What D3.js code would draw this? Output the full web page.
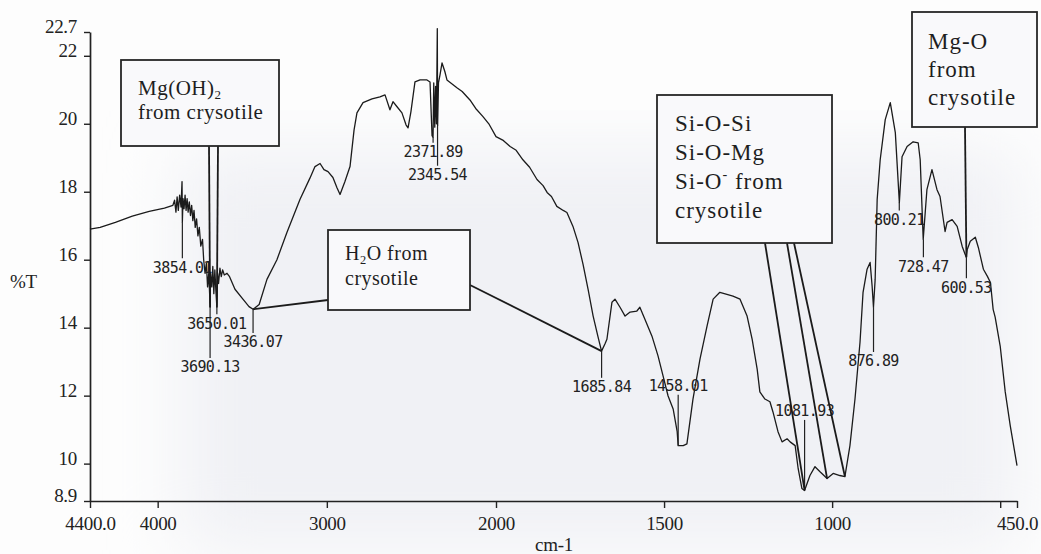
<!DOCTYPE html>
<html>
<head>
<meta charset="utf-8">
<script src="https://cdn.jsdelivr.net/npm/d3@7"></script>
<style>
body { margin: 0; background: #fff; }
svg { display: block; }
.tick-lbl text, .axis-title { font-family: "Liberation Serif", serif; font-size: 19px; fill: #222; letter-spacing: -0.3px; }
.peak { font-family: "DejaVu Sans Mono", monospace; font-size: 15px; fill: #222; letter-spacing: -0.6px; }
text.box-txt, text.box-txt tspan { font-family: "Liberation Serif", serif; fill: #1e1e1e; }
</style>
</head>
<body>
<svg id="chart" width="1041" height="554"></svg>
<script>
// spectrum (wavenumber in cm-1, %T)
const wavenumber = [
	4400, 4340, 4250, 4150, 4050, 3960, 3910, 3900, 3892, 3885, 3878, 3870, 3862, 3856, 3854, 3850,
	3844, 3838, 3832, 3826, 3820, 3813, 3806, 3799, 3792, 3785, 3778, 3770, 3762, 3754, 3745, 3735,
	3728, 3720, 3712, 3705, 3698, 3692, 3690, 3687, 3680, 3674, 3668, 3662, 3656, 3650, 3646, 3640,
	3632, 3624, 3616, 3606, 3590, 3575, 3543, 3496, 3460, 3436, 3400, 3354, 3295, 3236, 3159, 3100,
	3070, 3040, 3017, 2993, 2964, 2940, 2922, 2893, 2863, 2839, 2822, 2786, 2733, 2686, 2656, 2627,
	2609, 2585, 2556, 2532, 2520, 2503, 2479, 2449, 2408, 2390, 2378, 2372, 2368, 2362, 2357, 2352,
	2347, 2345, 2340, 2331, 2319, 2302, 2290, 2231, 2200, 2154, 2120, 2077, 2040, 2000, 1980, 1958,
	1940, 1920, 1900, 1878, 1860, 1848, 1835, 1819, 1800, 1789, 1771, 1756, 1741, 1726, 1711, 1697,
	1686, 1676, 1670, 1655, 1646, 1631, 1616, 1601, 1581, 1572, 1557, 1536, 1518, 1503, 1488, 1473,
	1461, 1458, 1443, 1432, 1414, 1393, 1372, 1354, 1334, 1313, 1295, 1274, 1253, 1238, 1223, 1215,
	1200, 1185, 1176, 1161, 1149, 1134, 1125, 1110, 1101, 1090, 1082, 1066, 1051, 1036, 1015, 997,
	977, 962, 947, 932, 917, 908, 896, 887, 881, 877, 872, 866, 857, 842, 827, 812,
	800, 792, 777, 759, 744, 738, 729, 718, 703, 688, 679, 664, 658, 643, 628, 613,
	601, 598, 589, 574, 565, 550, 538, 529, 521, 515, 500, 485, 470, 450
];
const transmittance = [
	16.9, 16.95, 17.1, 17.28, 17.42, 17.52, 17.6, 17.75, 17.4, 17.85, 17.45, 17.9, 17.55, 18.3, 17.1, 17.8,
	17.5, 17.9, 17.45, 17.8, 17.4, 17.7, 17.3, 17.6, 17.15, 17.45, 16.95, 17.2, 16.7, 16.95, 16.4, 16.6,
	16.0, 15.6, 15.9, 15.2, 15.6, 14.9, 14.6, 15.6, 15.2, 15.8, 15.0, 15.7, 15.1, 14.6, 15.6, 15.3,
	15.75, 15.5, 15.7, 15.55, 15.6, 15.5, 15.13, 14.84, 14.62, 14.54, 14.68, 15.42, 16.0, 16.8, 17.77, 18.4,
	18.74, 18.83, 18.65, 18.59, 18.42, 18.12, 17.92, 18.3, 18.74, 19.82, 20.32, 20.62, 20.73, 20.79, 20.85, 20.41,
	20.65, 20.5, 20.32, 19.97, 19.88, 20.35, 21.23, 21.29, 21.29, 21.23, 19.65, 19.6, 21.2, 19.9, 21.1, 20.0,
	22.8, 19.95, 21.2, 21.44, 21.79, 21.53, 21.29, 21.06, 20.95, 20.7, 20.45, 20.21, 19.98, 19.62, 19.52, 19.33,
	19.22, 18.94, 18.72, 18.36, 18.18, 17.98, 17.86, 17.57, 17.45, 17.39, 16.98, 16.51, 15.86, 15.13, 14.34, 13.75,
	13.31, 13.52, 13.66, 14.75, 14.84, 14.6, 14.34, 14.46, 14.49, 14.6, 14.25, 13.75, 13.17, 12.58, 11.99, 11.61,
	10.94, 10.53, 10.53, 10.58, 11.9, 13.08, 14.05, 14.84, 15.04, 14.98, 14.93, 14.84, 14.34, 13.66, 12.78, 12.11,
	11.9, 11.82, 11.52, 10.94, 10.64, 10.73, 10.64, 10.53, 9.85, 9.27, 9.21, 9.65, 9.91, 9.76, 9.56, 9.71,
	9.65, 9.62, 10.53, 11.9, 13.58, 15.04, 15.72, 15.92, 15.22, 14.6, 15.42, 17.77, 18.94, 20.12, 20.62, 19.74,
	17.68, 19.03, 19.33, 19.47, 19.44, 18.94, 16.6, 18.06, 18.65, 18.06, 17.86, 16.83, 17.1, 17.18, 16.98, 16.39,
	16.07, 16.3, 16.54, 16.66, 16.36, 15.72, 15.51, 15.33, 14.54, 14.31, 13.46, 12.11, 11.11, 9.94
];

// picked peaks and the %T level where the instrument printed each label
const peakWn = [3854.01, 3690.13, 3650.01, 3436.07, 2371.89, 2345.54, 1685.84, 1458.01, 1081.93, 876.89, 800.21, 728.47, 600.53];
const peakLabelT = [15.78, 12.84, 14.13, 13.58, 19.18, 18.5, 12.26, 12.29, 11.55, 13.02, 17.18, 15.81, 15.19];

const xTicks = [4400, 4000, 3000, 2000, 1500, 1000, 500, 450];
const xTickLabels = ["4400.0", "4000", "3000", "2000", "1500", "1000", "", "450.0"];
const yTicks = [22.7, 22, 20, 18, 16, 14, 12, 10, 8.9];
const yTickLabels = ["22.7", "22", "20", "18", "16", "14", "12", "10", "8.9"];

// annotation boxes: text lines + the peaks they point at
const notes = [
	{ lines: [[["Mg(OH)"], ["2", "sub"]], [["from crysotile"]]], targets: [3690.13, 3650.01] },
	{ lines: [[["H"], ["2", "sub"], ["O from"]], [["crysotile"]]], targets: [3436.07, 1685.84] },
	{ lines: [[["Si-O-Si"]], [["Si-O-Mg"]], [["Si-O"], ["-", "sup"], [" from"]], [["crysotile"]]], targets: [1081.93, 1015, 962] },
	{ lines: [[["Mg-O"]], [["from"]], [["crysotile"]]], targets: [600.53] }
];

// box layout (pixels)
const boxLayout = [
	{ x: 121, y: 60, w: 158, h: 86, tx: 138, ty: 95, lh: 24, fs: 21, ls: 0.5, from: [[209, 146], [218, 146]] },
	{ x: 328, y: 230, w: 142, h: 80, tx: 345, ty: 260, lh: 25, fs: 20, ls: 0.5, from: [[328, 300], [470, 285]] },
	{ x: 657, y: 95, w: 175, h: 148, tx: 675, ty: 131, lh: 29, fs: 23, ls: 1, from: [[765, 243], [787, 243], [794, 243]] },
	{ x: 912, y: 12, w: 125, h: 115, tx: 928, ty: 49, lh: 28, fs: 23, ls: 1, from: [[965, 127]] }
];

const spectrum = wavenumber.map((w, i) => ({ w: w, t: transmittance[i] }));

const svg = d3.select("#chart");

// FTIR scale: 2x expansion below 2000 cm-1
const x = d3.scaleLinear().domain([4400, 2000, 450]).range([90, 496, 1017]);
const y = d3.scaleLinear().domain([8.9, 22.7]).range([501, 32]);

// faint scan tint
const defs = svg.append("defs");
defs.append("filter").attr("id", "soft").append("feGaussianBlur").attr("stdDeviation", 35);
svg.append("rect").attr("width", 1041).attr("height", 554).attr("fill", "#fdfdfd");
svg.append("rect").attr("x", 180).attr("y", 150).attr("width", 840).attr("height", 400)
	.attr("fill", "#f0f1f5").attr("filter", "url(#soft)");

function curveAt(w) {
	let best = spectrum[0];
	spectrum.forEach(function (p) {
		if (Math.abs(p.w - w) < Math.abs(best.w - w)) best = p;
	});
	return best.t;
}

// axes
const xAxis = d3.axisBottom(x).tickValues(xTicks)
	.tickFormat((d, i) => xTickLabels[i]).tickSize(7).tickSizeOuter(0).tickPadding(9);
const gx = svg.append("g").attr("class", "tick-lbl")
	.attr("transform", "translate(0," + y(8.9) + ")").call(xAxis);

const yAxis = d3.axisLeft(y).tickValues(yTicks)
	.tickFormat((d, i) => yTickLabels[i]).tickSize(6).tickSizeOuter(0).tickPadding(7);
const gy = svg.append("g").attr("class", "tick-lbl")
	.attr("transform", "translate(" + x(4400) + ",0)").call(yAxis);
gy.selectAll("text").attr("dy", "0.05em");

[gx, gy].forEach(function (g) {
	g.select(".domain").attr("stroke", "#222").attr("stroke-width", 1.7);
	g.selectAll(".tick line").attr("stroke", "#222").attr("stroke-width", 1.4);
});

svg.append("text").attr("class", "axis-title").attr("x", 554).attr("y", 551)
	.attr("text-anchor", "middle").text("cm-1");
svg.append("text").attr("class", "axis-title").attr("x", 10).attr("y", 288).text("%T");

// spectrum trace
const line = d3.line().x(d => x(d.w)).y(d => y(d.t));
svg.append("path").datum(spectrum)
	.attr("d", line)
	.attr("fill", "none")
	.attr("stroke", "#1b1b1b")
	.attr("stroke-width", 1.3)
	.attr("stroke-linejoin", "round");

// peak markers and labels
peakWn.forEach(function (w, i) {
	let px = x(w);
	let cy = y(curveAt(w));
	let ly = y(peakLabelT[i]);
	let y1 = ly > cy ? ly - 9 : ly + 9;
	svg.append("line").attr("x1", px).attr("x2", px).attr("y1", cy).attr("y2", y1)
		.attr("stroke", "#222").attr("stroke-width", 1.2);
	svg.append("text").attr("class", "peak")
		.attr("x", px).attr("y", ly).attr("dy", "0.36em")
		.attr("text-anchor", "middle").text(w.toFixed(2));
});

// annotation boxes with pointer lines
notes.forEach(function (n, i) {
	let b = boxLayout[i];
	n.targets.forEach(function (w, k) {
		svg.append("line")
			.attr("x1", b.from[k][0]).attr("y1", b.from[k][1])
			.attr("x2", x(w)).attr("y2", y(curveAt(w)))
			.attr("stroke", "#1b1b1b").attr("stroke-width", 1.8);
	});
	svg.append("rect").attr("x", b.x).attr("y", b.y).attr("width", b.w).attr("height", b.h)
		.attr("fill", "#f9f9fb").attr("stroke", "#262626").attr("stroke-width", 1.8);
	let small = b.fs * 0.62;
	n.lines.forEach(function (parts, j) {
		let t = svg.append("text").attr("class", "box-txt")
			.attr("x", b.tx).attr("y", b.ty + j * b.lh)
			.attr("font-size", b.fs)
			.style("letter-spacing", b.ls + "px");
		if (parts.length == 1) {
			t.text(parts[0][0]);
			return;
		}
		parts.forEach(function (p, k) {
			let s = t.append("tspan").text(p[0]);
			let prev = k > 0 ? parts[k - 1][1] : null;
			if (p[1] == "sub") {
				s.attr("font-size", small).attr("dy", 0.3 * small);
			} else if (p[1] == "sup") {
				s.attr("font-size", small).attr("dy", -0.7 * small);
			} else if (prev == "sub") {
				s.attr("dy", -0.3 * small);
			} else if (prev == "sup") {
				s.attr("dy", 0.7 * small);
			}
		});
	});
});
</script>
</body>
</html>
